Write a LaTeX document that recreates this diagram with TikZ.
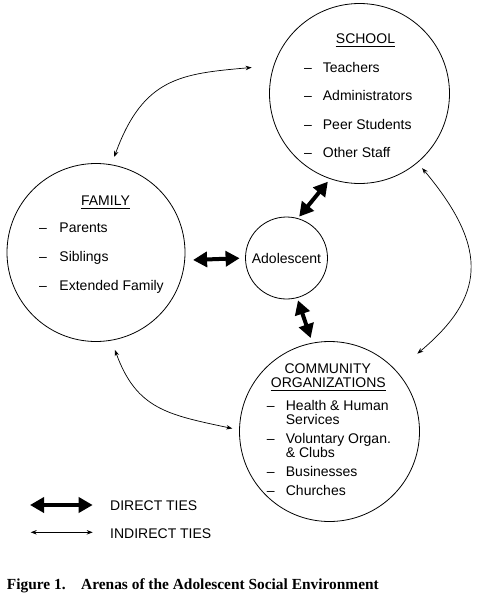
\documentclass[tikz,border=0pt]{standalone}
\usepackage{fontspec}
\setmainfont{Liberation Sans}
\newfontfamily\capfont{Liberation Serif}
\usetikzlibrary{arrows.meta}
\newcommand\myitem[2]{\makebox[#1][l]{–}#2}
\begin{document}
\begin{tikzpicture}[x=1pt,y=-1pt,
  ring/.style={circle,draw,line width=0.8pt,inner sep=0pt},
  txt/.style={inner sep=0pt,anchor=base west,font=\fontsize{14}{14}\selectfont},
  ttl/.style={inner xsep=0pt,inner ysep=3pt,text depth=0pt,anchor=base,font=\fontsize{14}{14}\selectfont},
  uline/.style={line width=0.7pt},
  direct/.style={line width=4pt,{Triangle[length=14pt,width=15pt]}-{Triangle[length=14pt,width=15pt]}},
  indirect/.style={line width=0.7pt,{Stealth[length=6pt,width=4.5pt]}-{Stealth[length=6pt,width=4.5pt]}},
  captxt/.style={inner sep=0pt,anchor=base west,font=\capfont\bfseries\fontsize{15.4}{16}\selectfont},
]
\useasboundingbox (0,0) rectangle (482,600);

% circles
\node[ring,minimum size=180pt] (school) at (359.5,93.5) {};
\node[ring,minimum size=178pt] (family) at (96,252.5) {};
\node[ring,minimum size=180pt] (comm) at (329.5,431.5) {};
\node[ring,minimum size=82pt,font=\fontsize{14}{14}\selectfont] (ado) at (286.5,258) {Adolescent};

% school
\node[ttl] (schooltitle) at (365.5,43.3) {SCHOOL};
\draw[uline] (schooltitle.south west) -- (schooltitle.south east);
\node[txt] (s1) at (304,72) {\myitem{18.7pt}{Teachers}};
\node[txt] (s2) at (304,100.7) {\myitem{18.7pt}{Administrators}};
\node[txt] (s3) at (304,129.3) {\myitem{18.7pt}{Peer Students}};
\node[txt] (s4) at (304,157.7) {\myitem{18.7pt}{Other Staff}};

% family
\node[ttl] (familytitle) at (105.5,205) {FAMILY};
\draw[uline] (familytitle.south west) -- (familytitle.south east);
\node[txt] (f1) at (39,232.7) {\myitem{20.3pt}{Parents}};
\node[txt] (f2) at (39,261.7) {\myitem{20.3pt}{Siblings}};
\node[txt] (f3) at (39,290.7) {\myitem{20.3pt}{Extended Family}};

% community
\node[ttl] (commtitlea) at (327.8,373) {COMMUNITY};
\node[ttl] (commtitleb) at (328.3,387.3) {ORGANIZATIONS};
\draw[uline] (commtitleb.south west) -- (commtitleb.south east);
\node[txt] (c1) at (266.7,410) {\myitem{19pt}{Health \& Human}};
\node[txt] (c1b) at (285.7,424) {Services};
\node[txt] (c2) at (266.7,443.3) {\myitem{19pt}{Voluntary Organ.}};
\node[txt] (c2b) at (285.7,457.7) {\& Clubs};
\node[txt] (c3) at (266.7,476.7) {\myitem{19pt}{Businesses}};
\node[txt] (c4) at (266.7,495) {\myitem{19pt}{Churches}};

% direct ties
\draw[direct,shorten <=8pt,shorten >=5.5pt] (family.-5) -- (ado.180);
\draw[direct,shorten <=2pt,shorten >=3.5pt] (ado.74) -- (school.251);
\draw[direct,shorten <=2.5pt,shorten >=5pt] (ado.285) -- (comm.101);

% indirect ties
\draw[indirect,shorten <=8pt,shorten >=22pt] (family.80) to[out=70,in=185,looseness=1.25] (school.162);
\draw[indirect,shorten <=7pt,shorten >=27pt] (school.-50) to[out=-50,in=40,looseness=1.39] (comm.42);
\draw[indirect,shorten <=10pt,shorten >=7pt] (family.-80) to[out=-70,in=168,looseness=1.2] (comm.179);

% legend
\coordinate (da) at (30,505);
\coordinate (db) at (92.7,505);
\draw[direct] (da) -- (db);
\coordinate (ia) at (30.7,532.3);
\coordinate (ib) at (92.7,532.3);
\draw[indirect] (ia) -- (ib);
\node[txt] (ldirect) at (110,510) {DIRECT TIES};
\node[txt] (lindirect) at (110,538.3) {INDIRECT TIES};

% caption
\node[captxt] (figlabel) at (6.7,589.3) {Figure 1.};
\node[captxt] (figtitle) at (81,589.3) {Arenas of the Adolescent Social Environment};
\end{tikzpicture}
\end{document}
